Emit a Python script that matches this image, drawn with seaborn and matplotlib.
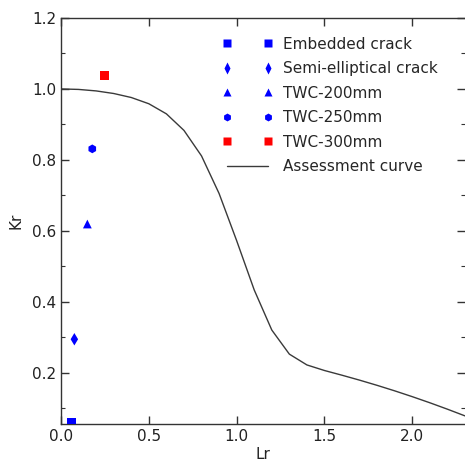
import numpy as np
import pandas as pd
import matplotlib
matplotlib.use("Agg")
import matplotlib.pyplot as plt
import seaborn as sns
from matplotlib.ticker import MultipleLocator

# ---- data ----
series_labels = ["Embedded crack", "Semi-elliptical crack", "TWC-200mm", "TWC-250mm", "TWC-300mm"]
series_lr = [0.06, 0.076, 0.15, 0.178, 0.246]
series_kr = [0.06, 0.294, 0.619, 0.831, 1.037]
series_colors = ["#0000ff", "#0000ff", "#0000ff", "#0000ff", "#ff0000"]
series_markers = ["s", "d", "^", "h", "s"]

curve_lr = [0.0, 0.1, 0.2, 0.3, 0.4, 0.5, 0.6, 0.7, 0.8, 0.9, 1.0, 1.1, 1.2,
            1.3, 1.4, 1.5, 1.6, 1.7, 1.8, 1.9, 2.0, 2.1, 2.2, 2.3]
curve_kr = [1.0, 0.9986, 0.9944, 0.9871, 0.9758, 0.9582, 0.9297, 0.883, 0.811,
            0.705, 0.572, 0.433, 0.320, 0.252, 0.2215, 0.2058, 0.1925, 0.1786,
            0.1639, 0.1484, 0.132, 0.1148, 0.0967, 0.0778]
curve_label = "Assessment curve"

sns.set_style("ticks")
plt.rcParams["font.family"] = ["DejaVu Sans"]
plt.rcParams["xtick.direction"] = "in"
plt.rcParams["ytick.direction"] = "in"

fig = plt.figure(figsize=(4.65, 4.62), dpi=100)
ax = fig.add_axes([0.1312, 0.0823, 0.8688, 0.8787])

pts = pd.DataFrame({"Lr": series_lr, "Kr": series_kr, "series": series_labels})
curve = pd.DataFrame({"Lr": curve_lr, "Kr": curve_kr})

sns.lineplot(data=curve, x="Lr", y="Kr", ax=ax, color="#3a3a3a", linewidth=1.0,
             label=curve_label, sort=False)
sns.scatterplot(data=pts, x="Lr", y="Kr", hue="series", style="series",
                hue_order=series_labels, style_order=series_labels,
                palette=dict(zip(series_labels, series_colors)),
                markers=dict(zip(series_labels, series_markers)),
                s=40, edgecolor="none", ax=ax, zorder=3)

ax.set_xlim(0, 2.3)
ax.set_ylim(0.055, 1.2)
ax.xaxis.set_major_locator(MultipleLocator(0.5))
ax.yaxis.set_major_locator(MultipleLocator(0.2))
ax.yaxis.set_minor_locator(MultipleLocator(0.1))
ax.xaxis.set_major_formatter(matplotlib.ticker.FormatStrFormatter("%.1f"))
ax.yaxis.set_major_formatter(matplotlib.ticker.FormatStrFormatter("%.1f"))
ax.tick_params(axis="both", which="major", labelsize=11, length=6, width=1,
               color="#333333", labelcolor="#222222")
ax.tick_params(axis="y", which="minor", length=3, width=0.8, color="#333333")
ax.tick_params(top=True, right=True, which="both")
ax.tick_params(axis="x", which="minor", top=False, bottom=False)
for s in ["left", "bottom", "top"]:
    ax.spines[s].set_color("#333333")
    ax.spines[s].set_linewidth(1.0)
ax.spines["right"].set_visible(False)

ax.set_xlabel("Lr", fontsize=11, color="#222222", labelpad=2)
ax.set_ylabel("Kr", fontsize=11, color="#222222", labelpad=6)

handles, labels = ax.get_legend_handles_labels()
order = [labels.index(l) for l in series_labels] + [labels.index(curve_label)]
ax.legend([handles[i] for i in order], [labels[i] for i in order],
          loc="upper left", bbox_to_anchor=(0.365, 0.988), frameon=False,
          numpoints=2, scatterpoints=2, fontsize=11, handlelength=3.3,
          handletextpad=0.65, labelspacing=0.62, markerscale=0.9)

fig.savefig("out.png", dpi=100)
